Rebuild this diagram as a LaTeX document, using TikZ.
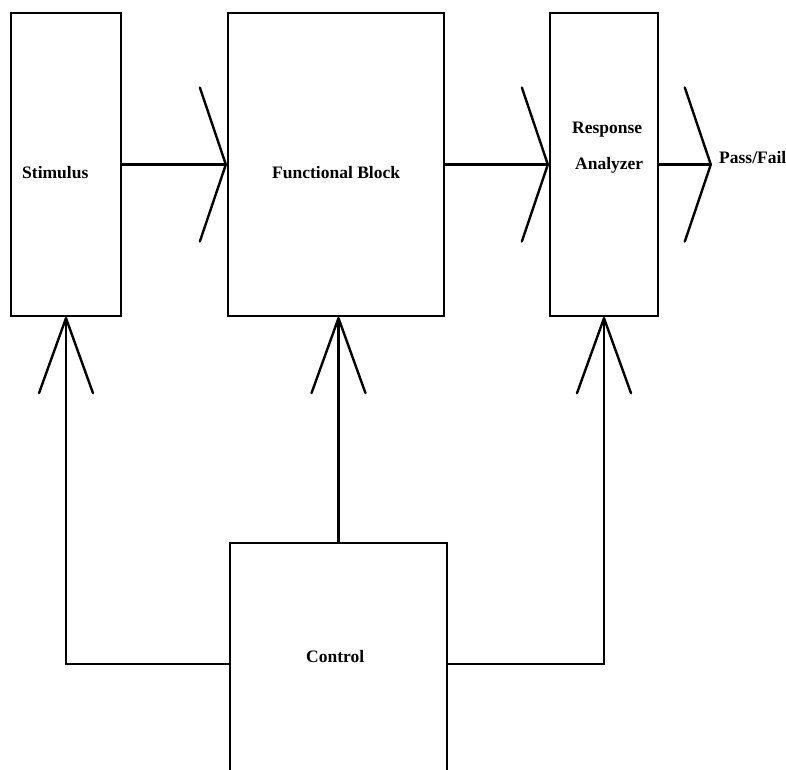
\documentclass[tikz,border=0pt]{standalone}
\usepackage{fontspec}
\setmainfont{Liberation Serif}
\usetikzlibrary{arrows.meta}
\begin{document}
\begin{tikzpicture}[x=1pt,y=-1pt,
  block/.style={draw,line width=1.9pt,inner sep=0pt,minimum width=#1},
  lbl/.style={inner sep=0pt,anchor=base west,font=\fontsize{17.5}{20}\selectfont\bfseries},
  wire/.style={line width=2.1pt},
  harrow/.style={wire,-{Straight Barb[length=26pt,width=154pt,round,line width=2.4pt]}},
  varrow/.style={wire,-{Straight Barb[length=75pt,width=54pt,round,line width=2.4pt]}}]
  \clip (0,0) rectangle (786,769);
  \fill[white] (0,0) rectangle (786,769);

  % blocks
  \node[block=110pt,minimum height=303pt] (stim) at (66,164.5) {};
  \node[block=216pt,minimum height=303pt] (fb)   at (336,164.5) {};
  \node[block=108pt,minimum height=303pt] (ra)   at (604,164.5) {};
  \node[block=217pt,minimum height=242pt] (ctrl) at (338.5,664) {};

  % block labels
  \node[lbl] (tstim) at (22,178) {Stimulus};
  \node[lbl] (tfb)   at (272,178) {Functional Block};
  \node[lbl] (tresp) at (572,133) {Response};
  \node[lbl] (tana)  at (575,169) {Analyzer};
  \node[lbl] (tctrl) at (306,662) {Control};
  \node[lbl] (tpf)   at (719,163) {Pass/Fail};

  % data path
  \coordinate (out) at (712,164.5);
  \draw[harrow] (stim.east) -- (fb.west);
  \draw[harrow] (fb.east) -- (ra.west);
  \draw[harrow] (ra.east) -- (out);

  % control lines
  \draw[varrow] (ctrl.north) -- (ctrl.north |- fb.south);
  \draw[varrow] (ctrl.west) -| (stim.south);
  \draw[varrow] (ctrl.east) -| (ra.south);
\end{tikzpicture}
\end{document}
